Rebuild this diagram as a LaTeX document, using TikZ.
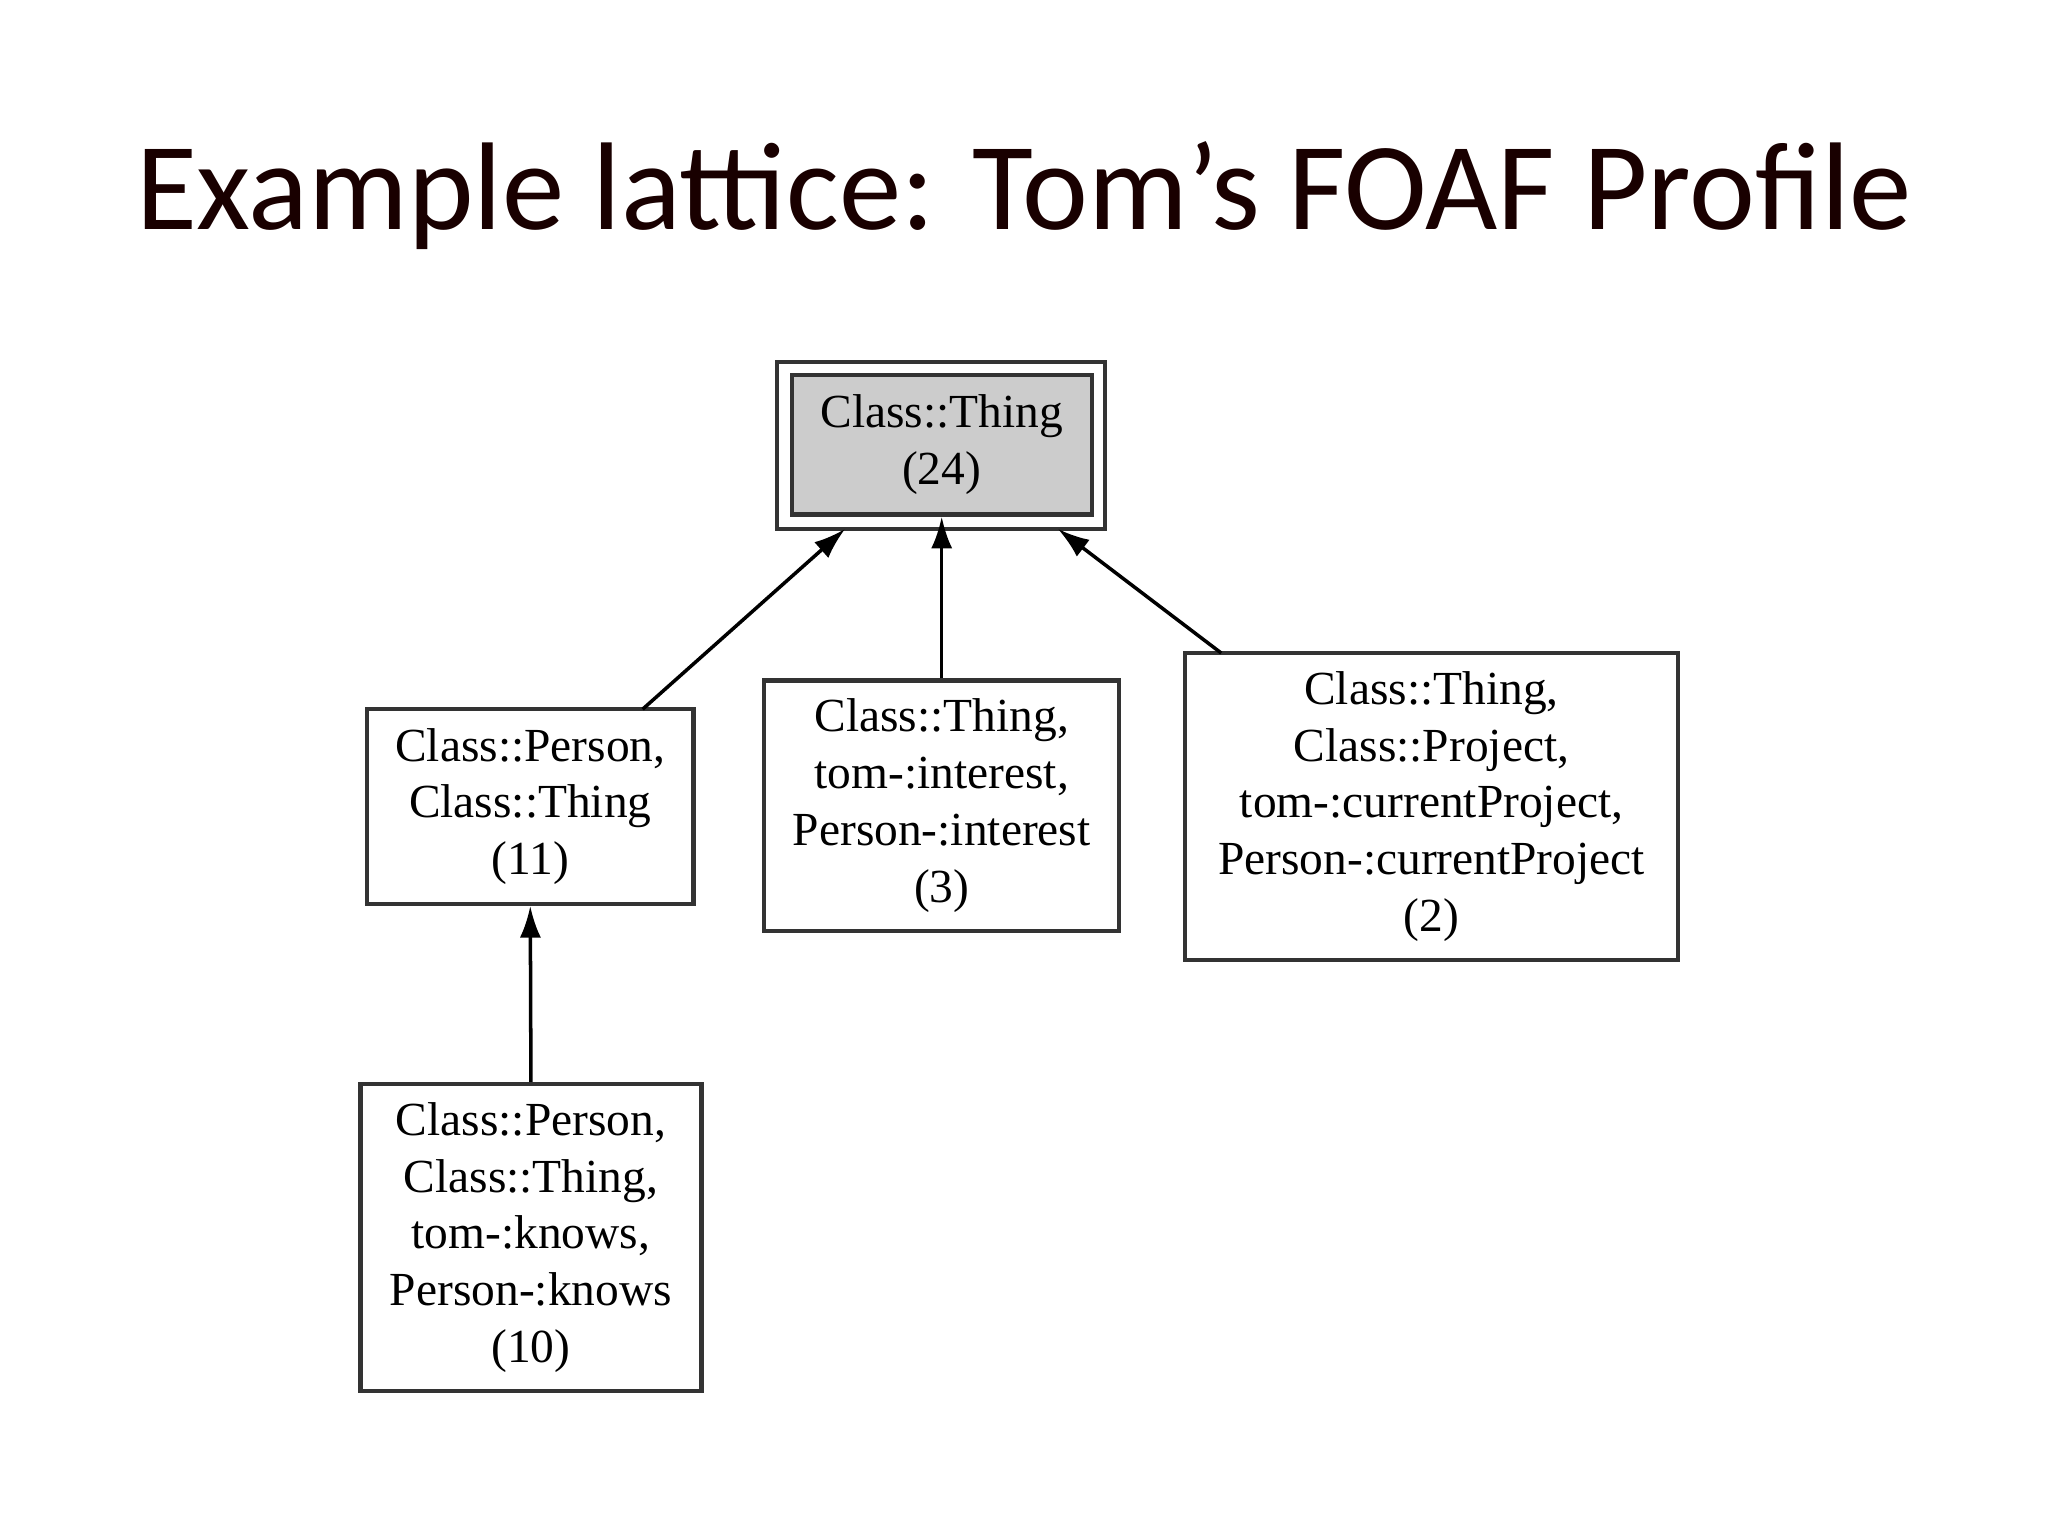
\documentclass[tikz,border=0pt]{standalone}
\usepackage{fontspec}
\setmainfont{Liberation Serif}
\newfontfamily\titlefont{Carlito}
\usetikzlibrary{arrows.meta}
\begin{document}
\begin{tikzpicture}[x=0.01306cm,y=-0.01306cm,
  box/.style={draw=black!80,line width=1.2pt,align=center,inner sep=0pt,font=\fontsize{13.5}{16.2}\selectfont},
  arr/.style={-{Latex[length=9pt,width=6pt]},line width=1pt}]
\useasboundingbox[fill=white] (0,0) rectangle (1568,1176);
\node[font=\titlefont\fontsize{35.5}{38}\selectfont,text=black!90!red] (title) at (784,150) {Example lattice: Tom’s FOAF Profile};
\draw[line width=1.2pt,draw=black!80] (595,277) rectangle (846,405);
\node[box,fill=black!20,minimum width=3.0cm,minimum height=1.397cm] (top) at (721,340.5) {Class::Thing\\(24)};
\node[box,minimum width=3.265cm,minimum height=1.946cm] (person) at (406,617.5) {Class::Person,\\Class::Thing\\(11)};
\node[box,minimum width=3.552cm,minimum height=2.508cm] (interest) at (721,617) {Class::Thing,\\tom-:interest,\\Person-:interest\\(3)};
\node[box,minimum width=4.937cm,minimum height=3.069cm] (project) at (1096,617.5) {Class::Thing,\\Class::Project,\\tom-:currentProject,\\Person-:currentProject\\(2)};
\node[box,minimum width=3.409cm,minimum height=3.069cm] (knows) at (406.5,947.5) {Class::Person,\\Class::Thing,\\tom-:knows,\\Person-:knows\\(10)};
\coordinate (a1) at (492,543); \coordinate (b1) at (647,405);
\coordinate (b3) at (810,405); \coordinate (a3) at (935,500);
\draw[arr] (a1) -- (b1);
\draw[arr] (interest.north) -- (interest.north |- top.south);
\draw[arr] (a3) -- (b3);
\draw[arr] (knows.north) -- (person.south);
\end{tikzpicture}
\end{document}
